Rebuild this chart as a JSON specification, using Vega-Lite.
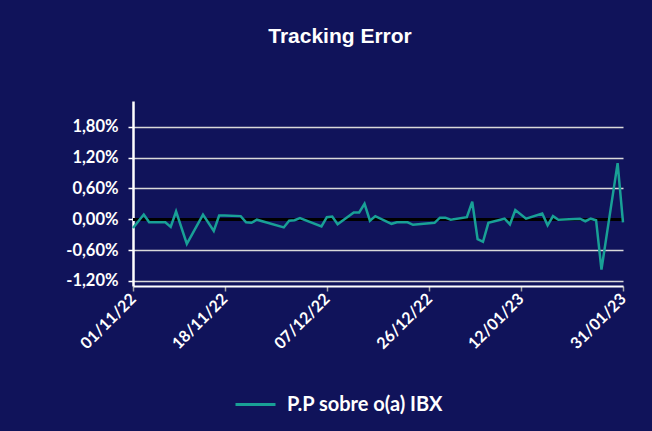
{
  "$schema": "https://vega.github.io/schema/vega-lite/v6.json",
  "autosize": "none",
  "width": 490,
  "height": 185,
  "padding": {"left": 133, "top": 101, "right": 29, "bottom": 145},
  "background": "#10135A",
  "title": {"text": "Tracking Error", "anchor": "middle", "frame": "group", "dx": -38, "offset": 54, "font": "Liberation Sans", "fontSize": 21, "fontWeight": "bold", "color": "#FFFFFF"},
  "config": {"view": {"stroke": null}},
  "data": {"values": [
    {"date": "2022-11-01", "te": -0.17},
    {"date": "2022-11-03", "te": 0.09},
    {"date": "2022-11-04", "te": -0.06},
    {"date": "2022-11-07", "te": -0.06},
    {"date": "2022-11-08", "te": -0.15},
    {"date": "2022-11-09", "te": 0.15},
    {"date": "2022-11-11", "te": -0.48},
    {"date": "2022-11-14", "te": 0.09},
    {"date": "2022-11-16", "te": -0.23},
    {"date": "2022-11-17", "te": 0.07},
    {"date": "2022-11-18", "te": 0.07},
    {"date": "2022-11-21", "te": 0.06},
    {"date": "2022-11-22", "te": -0.06},
    {"date": "2022-11-23", "te": -0.07},
    {"date": "2022-11-24", "te": -0.01},
    {"date": "2022-11-29", "te": -0.16},
    {"date": "2022-11-30", "te": -0.03},
    {"date": "2022-12-01", "te": -0.02},
    {"date": "2022-12-02", "te": 0.02},
    {"date": "2022-12-06", "te": -0.14},
    {"date": "2022-12-07", "te": 0.04},
    {"date": "2022-12-08", "te": 0.05},
    {"date": "2022-12-09", "te": -0.10},
    {"date": "2022-12-12", "te": 0.13},
    {"date": "2022-12-13", "te": 0.13},
    {"date": "2022-12-14", "te": 0.30},
    {"date": "2022-12-15", "te": -0.03},
    {"date": "2022-12-16", "te": 0.06},
    {"date": "2022-12-19", "te": -0.09},
    {"date": "2022-12-20", "te": -0.06},
    {"date": "2022-12-22", "te": -0.06},
    {"date": "2022-12-23", "te": -0.11},
    {"date": "2022-12-27", "te": -0.07},
    {"date": "2022-12-28", "te": 0.03},
    {"date": "2022-12-29", "te": 0.03},
    {"date": "2022-12-30", "te": -0.01},
    {"date": "2023-01-02", "te": 0.04},
    {"date": "2023-01-03", "te": 0.34},
    {"date": "2023-01-04", "te": -0.39},
    {"date": "2023-01-05", "te": -0.44},
    {"date": "2023-01-06", "te": -0.07},
    {"date": "2023-01-09", "te": 0.01},
    {"date": "2023-01-10", "te": -0.10},
    {"date": "2023-01-11", "te": 0.18},
    {"date": "2023-01-13", "te": 0.01},
    {"date": "2023-01-16", "te": 0.11},
    {"date": "2023-01-17", "te": -0.12},
    {"date": "2023-01-18", "te": 0.06},
    {"date": "2023-01-19", "te": -0.01},
    {"date": "2023-01-23", "te": 0.01},
    {"date": "2023-01-24", "te": -0.04},
    {"date": "2023-01-25", "te": 0.01},
    {"date": "2023-01-26", "te": -0.02},
    {"date": "2023-01-27", "te": -0.98},
    {"date": "2023-01-30", "te": 1.09},
    {"date": "2023-01-31", "te": -0.06}
  ]},
  "layer": [
    {
      "mark": {"type": "rule", "color": "#000000", "strokeWidth": 2},
      "encoding": {
        "y": {
          "datum": 0, "type": "quantitative",
          "scale": {"domain": [-1.3, 2.3], "nice": false, "zero": false},
          "axis": {
            "title": null,
            "zindex": 0,
            "values": [-1.2, -0.6, 0, 0.6, 1.2, 1.8],
            "labelExpr": "(datum.value < 0 ? '-' : '') + replace(format(abs(datum.value), '.2f'), '.', ',') + '%'",
            "labelFont": "Lato",
            "labelFontSize": 16.5,
            "labelFontWeight": "bold",
            "labelColor": "#FFFFFF",
            "labelPadding": 10,
            "labelOverlap": false,
            "labelFlush": false,
            "domainColor": "#FFFFFF",
            "domainWidth": 2.5,
            "tickColor": "#FFFFFF",
            "tickSize": 5,
            "tickWidth": 1.5,
            "grid": true,
            "gridColor": "#D9D9D9",
            "gridWidth": 1.5
          }
        }
      }
    },
    {
      "mark": {"type": "line", "strokeWidth": 2.5, "interpolate": "linear"},
      "encoding": {
        "x": {
          "field": "date", "type": "temporal",
          "scale": {"type": "utc", "domain": [{"year": 2022, "month": 11, "date": 1, "utc": true}, {"year": 2023, "month": 1, "date": 31, "utc": true}], "nice": false},
          "axis": {
            "title": null,
            "values": [
              {"year": 2022, "month": 11, "date": 1, "utc": true},
              {"year": 2022, "month": 11, "date": 18, "utc": true},
              {"year": 2022, "month": 12, "date": 7, "utc": true},
              {"year": 2022, "month": 12, "date": 26, "utc": true},
              {"year": 2023, "month": 1, "date": 12, "utc": true},
              {"year": 2023, "month": 1, "date": 31, "utc": true}
            ],
            "labelExpr": "utcFormat(datum.value, '%d/%m/%y')",
            "labelAngle": -45,
            "labelAlign": "right",
            "labelBaseline": "middle",
            "labelFont": "Lato",
            "labelFontSize": 16,
            "labelFontWeight": "bold",
            "labelColor": "#FFFFFF",
            "labelPadding": 5,
            "labelOverlap": false,
            "labelFlush": false,
            "domainColor": "#FFFFFF",
            "domainWidth": 2,
            "tickColor": "#A6A6A6",
            "tickSize": 5,
            "tickWidth": 1.5,
            "grid": false
          }
        },
        "y": {
          "field": "te", "type": "quantitative",
          "scale": {"domain": [-1.3, 2.3], "nice": false, "zero": false},
          "axis": {
            "title": null,
            "zindex": 0,
            "values": [-1.2, -0.6, 0, 0.6, 1.2, 1.8],
            "labelExpr": "(datum.value < 0 ? '-' : '') + replace(format(abs(datum.value), '.2f'), '.', ',') + '%'",
            "labelFont": "Lato",
            "labelFontSize": 16.5,
            "labelFontWeight": "bold",
            "labelColor": "#FFFFFF",
            "labelPadding": 10,
            "labelOverlap": false,
            "labelFlush": false,
            "domainColor": "#FFFFFF",
            "domainWidth": 2.5,
            "tickColor": "#FFFFFF",
            "tickSize": 5,
            "tickWidth": 1.5,
            "grid": true,
            "gridColor": "#D9D9D9",
            "gridWidth": 1.5
          }
        },
        "color": {
          "datum": "P.P sobre o(a) IBX",
          "type": "nominal",
          "scale": {"range": ["#19A096"]},
          "legend": {
            "title": null,
            "orient": "none",
            "legendX": 101,
            "legendY": 282,
            "symbolType": "stroke",
            "symbolSize": 1600,
            "symbolStrokeWidth": 3,
            "labelFont": "Lato",
            "labelFontSize": 20,
            "labelFontWeight": "bold",
            "labelColor": "#FFFFFF",
            "labelOffset": 10
          }
        }
      }
    }
  ]
}
